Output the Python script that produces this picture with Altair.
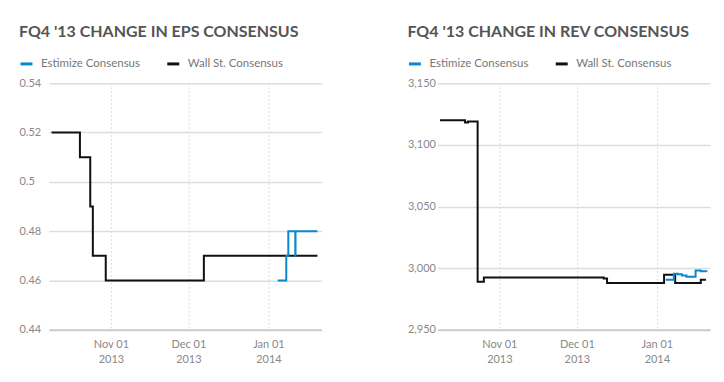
import altair as alt
import pandas as pd

# ---- data ----
eps_ws_dates = ["2013-10-09T00:00", "2013-10-20T00:00", "2013-10-24T00:00", "2013-10-25T00:00",
                "2013-10-30T00:00", "2013-12-07T00:00", "2014-01-20T00:00"]
eps_ws_vals = [0.52, 0.51, 0.49, 0.47, 0.46, 0.47, 0.47]

eps_es_dates = ["2014-01-04T14:00", "2014-01-07T22:00", "2014-01-08T17:00",
                "2014-01-11T10:00", "2014-01-11T12:00", "2014-01-20T00:00"]
eps_es_vals = [0.46, 0.47, 0.48, 0.47, 0.48, 0.48]

rev_ws_dates = ["2013-10-09T00:00", "2013-10-18T17:00", "2013-10-19T20:00", "2013-10-23T14:00",
                "2013-10-26T00:00", "2013-12-11T10:00", "2013-12-12T17:00", "2014-01-03T19:00",
                "2014-01-08T02:00", "2014-01-18T00:00", "2014-01-20T00:00"]
rev_ws_vals = [3120, 3118, 3119, 2989, 2992.5, 2991.5, 2988, 2994.6, 2988, 2990.5, 2990.5]

rev_es_dates = ["2014-01-04T10:00", "2014-01-07T14:00", "2014-01-09T02:00", "2014-01-10T17:00",
                "2014-01-12T12:00", "2014-01-16T00:00", "2014-01-18T00:00", "2014-01-20T06:00"]
rev_es_vals = [2990.5, 2995.5, 2995, 2994, 2993, 2998, 2997.5, 2997]

series_names = ["Estimize Consensus", "Wall St. Consensus"]
series_colors = ["#0a88cc", "#111111"]

x_domain = ["2013-10-08T00:00", "2014-01-21T14:00"]
x_ticks = [alt.DateTime(year=2013, month=11, date=1),
           alt.DateTime(year=2013, month=12, date=1),
           alt.DateTime(year=2014, month=1, date=1)]

eps_ticks = [0.44, 0.46, 0.48, 0.5, 0.52, 0.54]
rev_ticks = [2950, 3000, 3050, 3100, 3150]

FONT = "Lato"


def frame(ws_d, ws_v, es_d, es_v):
    a = pd.DataFrame({"date": es_d, "value": es_v, "series": series_names[0]})
    b = pd.DataFrame({"date": ws_d, "value": ws_v, "series": series_names[1]})
    return pd.concat([b, a], ignore_index=True)


def panel(df, title, ydom, yticks, yfmt):
    return alt.Chart(df).mark_line(interpolate="step-after", strokeWidth=2).encode(
        x=alt.X("date:T", title=None,
                scale=alt.Scale(domain=x_domain),
                axis=alt.Axis(values=x_ticks,
                              labelExpr="[timeFormat(datum.value, '%b %d'), timeFormat(datum.value, '%Y')]",
                              grid=True, gridDash=[1, 3], gridColor="#bbbbbb", gridWidth=1,
                              ticks=False, tickSize=0, labelPadding=9,
                              domain=True, domainColor="#cccccc", domainWidth=2,
                              labelColor="#888888", labelFont=FONT, labelFontSize=11,
                              labelLineHeight=15)),
        y=alt.Y("value:Q", title=None,
                scale=alt.Scale(domain=ydom, nice=False, zero=False),
                axis=alt.Axis(values=yticks, format=yfmt,
                              grid=True, gridColor="#dddddd", gridWidth=1.5,
                              ticks=False, tickSize=0, domain=False,
                              labelAlign="left", labelPadding=30,
                              labelColor="#888888", labelFont=FONT, labelFontSize=11)),
        color=alt.Color("series:N",
                        scale=alt.Scale(domain=series_names, range=series_colors),
                        legend=alt.Legend(title=None, orient="none", legendX=-30, legendY=-27,
                                          direction="horizontal", symbolType="stroke",
                                          symbolSize=144, symbolStrokeWidth=3,
                                          labelFont=FONT, labelFontSize=11.5, labelColor="#777777",
                                          labelOffset=7, columnPadding=20)),
        order=alt.Order("series:N", sort="descending"),
    ).properties(
        width=273, height=247,
        title=alt.TitleParams(title, anchor="start", frame="bounds", font=FONT, fontSize=16,
                              fontWeight="bold", color="#555555", offset=16),
    )


left = panel(frame(eps_ws_dates, eps_ws_vals, eps_es_dates, eps_es_vals),
             "FQ4 '13 CHANGE IN EPS CONSENSUS", [0.44, 0.54], eps_ticks, ".2~f")
right = panel(frame(rev_ws_dates, rev_ws_vals, rev_es_dates, rev_es_vals),
              "FQ4 '13 CHANGE IN REV CONSENSUS", [2950, 3150], rev_ticks, ",.0f")

chart = alt.hconcat(left, right, spacing=86).properties(
    padding={"left": 11, "top": 16, "right": 5, "bottom": 5}
).configure_view(stroke=None).resolve_scale(color="independent")

chart.save("out.html", embed_options={"renderer": "svg", "actions": False})
